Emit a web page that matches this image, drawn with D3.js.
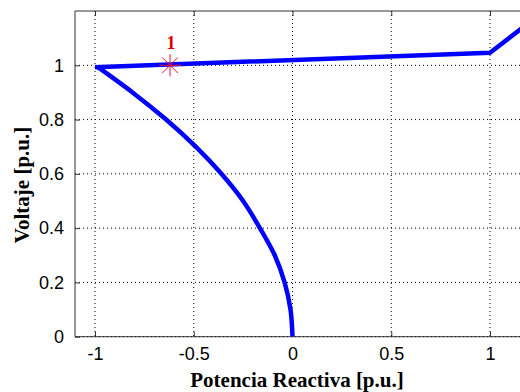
<!DOCTYPE html>
<html>
<head>
<meta charset="utf-8">
<script src="https://cdn.jsdelivr.net/npm/d3@7"></script>
<style>
  html, body { margin: 0; padding: 0; background: #fff; }
  svg { display: block; }
</style>
</head>
<body>
<svg id="chart" width="520" height="392"></svg>
<script>
// Q-V curve: reactive power vs bus voltage
const lowerQ = [0, -0.01, -0.04, -0.09, -0.165, -0.25, -0.36, -0.49, -0.64, -0.81, -0.985];
const lowerV = [0, 0.1, 0.2, 0.3, 0.4, 0.5, 0.6, 0.7, 0.8, 0.9, 0.993];
const upperQ = [-1.0, 1.0, 1.25];
const upperV = [0.993, 1.046, 1.187];
const pointQ = [-0.62];
const pointV = [1.0];
const pointLabels = ["1"];
const xTicks = [-1, -0.5, 0, 0.5, 1];
const yTicks = [0, 0.2, 0.4, 0.6, 0.8, 1];
const xTickLabels = ["-1", "-0.5", "0", "0.5", "1"];
const yTickLabels = ["0", "0.2", "0.4", "0.6", "0.8", "1"];

const svg = d3.select("#chart");
const plotLeft = 75, plotTop = 11, plotBottom = 336.7, plotRight = 560;

const x = d3.scaleLinear().domain([-1, 1]).range([95, 490]);
const y = d3.scaleLinear().domain([0, 1.2]).range([plotBottom, plotTop]);

// grid
const grid = svg.append("g");
xTicks.forEach(t => grid.append("line")
  .attr("x1", x(t)).attr("x2", x(t)).attr("y1", plotTop).attr("y2", plotBottom)
  .attr("stroke", "#000").attr("stroke-width", 1).attr("stroke-dasharray", "1,3"));
yTicks.forEach(t => grid.append("line")
  .attr("x1", plotLeft).attr("x2", plotRight).attr("y1", y(t)).attr("y2", y(t))
  .attr("stroke", "#000").attr("stroke-width", 1).attr("stroke-dasharray", "1,3"));

// axis frame
svg.append("path")
  .attr("d", `M${plotRight},${plotTop}H${plotLeft}V${plotBottom}H${plotRight}`)
  .attr("fill", "none").attr("stroke", "#333").attr("stroke-width", 1);

// axes with inward ticks
const xAxis = d3.axisBottom(x).tickValues(xTicks).tickSize(-5)
  .tickFormat((d, i) => xTickLabels[i]).tickPadding(11);
const gx = svg.append("g").attr("transform", `translate(0,${plotBottom})`).call(xAxis);
gx.select(".domain").remove();
gx.selectAll("line").attr("stroke", "#333");
gx.selectAll("text").attr("font-family", "Liberation Sans, Arial, sans-serif")
  .attr("font-size", 18).attr("fill", "#000");

const xTop = d3.axisTop(x).tickValues(xTicks).tickSize(-5).tickFormat("");
const gxt = svg.append("g").attr("transform", `translate(0,${plotTop})`).call(xTop);
gxt.select(".domain").remove();
gxt.selectAll("line").attr("stroke", "#333");

const yAxis = d3.axisLeft(y).tickValues(yTicks).tickSize(-5)
  .tickFormat((d, i) => yTickLabels[i]).tickPadding(11);
const gy = svg.append("g").attr("transform", `translate(${plotLeft},0)`).call(yAxis);
gy.select(".domain").remove();
gy.selectAll("line").attr("stroke", "#333");
gy.selectAll("text").attr("font-family", "Liberation Sans, Arial, sans-serif")
  .attr("font-size", 18).attr("fill", "#000");

// axis titles
svg.append("text")
  .attr("x", 297).attr("y", 387)
  .attr("text-anchor", "middle")
  .attr("font-family", "Liberation Serif, Times New Roman, serif")
  .attr("font-weight", "bold").attr("font-size", 21)
  .text("Potencia Reactiva [p.u.]");
svg.append("text")
  .attr("transform", "translate(29,185) rotate(-90)")
  .attr("text-anchor", "middle")
  .attr("font-family", "Liberation Serif, Times New Roman, serif")
  .attr("font-weight", "bold").attr("font-size", 21)
  .text("Voltaje [p.u.]");

// curve
svg.append("clipPath").attr("id", "plotClip")
  .append("rect").attr("x", plotLeft).attr("y", plotTop)
  .attr("width", plotRight - plotLeft).attr("height", plotBottom - plotTop);

const lowerPts = lowerQ.map((q, i) => [q, lowerV[i]]);
const upperPts = upperQ.map((q, i) => [q, upperV[i]]);
svg.append("path")
  .attr("clip-path", "url(#plotClip)")
  .attr("d", d3.line().x(d => x(d[0])).y(d => y(d[1])).curve(d3.curveMonotoneY)(lowerPts))
  .attr("fill", "none").attr("stroke", "#0000ff").attr("stroke-width", 4.5)
  .attr("stroke-linejoin", "round");
svg.append("path")
  .attr("clip-path", "url(#plotClip)")
  .attr("d", d3.line().x(d => x(d[0])).y(d => y(d[1]))(upperPts))
  .attr("fill", "none").attr("stroke", "#0000ff").attr("stroke-width", 4.5)
  .attr("stroke-linejoin", "round");

// marked operating point
const star = d3.symbol().type({
  draw(ctx, size) {
    const r = Math.sqrt(size);
    const d = r * Math.SQRT1_2;
    ctx.moveTo(-r, 0); ctx.lineTo(r, 0);
    ctx.moveTo(0, -r); ctx.lineTo(0, r);
    ctx.moveTo(-d, -d); ctx.lineTo(d, d);
    ctx.moveTo(-d, d); ctx.lineTo(d, -d);
  }
}).size(121);
pointQ.forEach((q, i) => {
  svg.append("path")
    .attr("transform", `translate(${x(q)},${y(pointV[i])})`)
    .attr("d", star())
    .attr("fill", "none").attr("stroke", "#ee1133").attr("stroke-width", 1);
  svg.append("text")
    .attr("x", x(q) + 1).attr("y", y(pointV[i]) - 16)
    .attr("text-anchor", "middle")
    .attr("font-family", "Liberation Serif, Times New Roman, serif")
    .attr("font-weight", "bold").attr("font-size", 18)
    .attr("fill", "#e00000")
    .text(pointLabels[i]);
});
</script>
</body>
</html>
